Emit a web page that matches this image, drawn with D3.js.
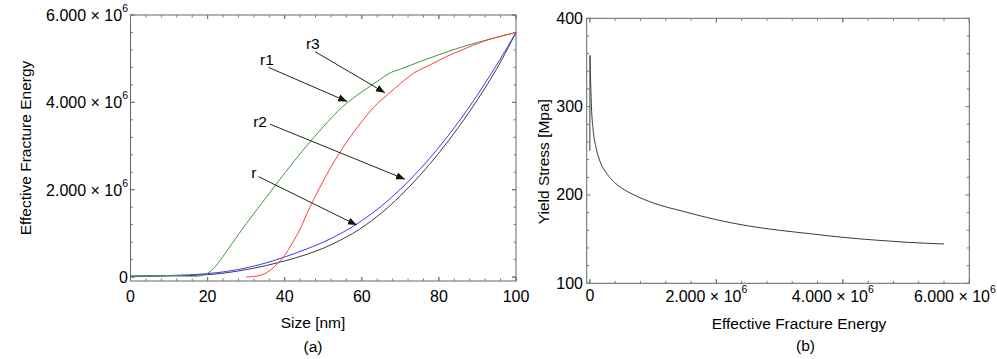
<!DOCTYPE html>
<html><head><meta charset="utf-8">
<script src="https://cdn.jsdelivr.net/npm/d3@7"></script>
<style>body{margin:0;background:#fff}svg{display:block}text{font-family:"Liberation Sans",Arial,sans-serif;fill:#000}</style>
</head><body>
<svg id="c" width="997" height="359"></svg>
<script>
// ---------- data: panel (a) ----------
const sizeR  = [0,10,20,25,30,35,40,45,50,55,60,65,70,75,80,85,90,95,100];
const energyR  = [0.02,0.025,0.055,0.1,0.17,0.26,0.37,0.5,0.66,0.87,1.13,1.46,1.86,2.32,2.84,3.42,4.06,4.77,5.6];
const energyR2 = [0.02,0.035,0.08,0.13,0.21,0.32,0.46,0.62,0.8,1.02,1.29,1.62,2.01,2.46,2.97,3.54,4.17,4.86,5.6];
const sizeR1 = [0,5,10,13,15,17,19,21,23,25,27,30,35,40,45,50,55,60,65,67,70,75,80,85,90,95,100];
const energyR1 = [0.02,0.03,0.035,0.03,0.02,0.02,0.05,0.15,0.35,0.6,0.85,1.22,1.8,2.38,2.93,3.44,3.9,4.24,4.54,4.66,4.76,4.93,5.09,5.24,5.37,5.49,5.6];
const sizeR3 = [30,32,34,36,38,40,42,44,46,48,50,52,54,56,58,60,63,67,70,73.5,78,82,86,91.3,95,100];
const energyR3 = [0.0,0.015,0.05,0.14,0.3,0.5,0.78,1.1,1.5,1.86,2.2,2.52,2.81,3.08,3.33,3.56,3.88,4.2,4.43,4.67,4.87,5.05,5.2,5.39,5.49,5.6];
// annotations (label, label pos, arrow start, arrow end) in data units [size, energy/1e6]
const annotLabels = ["r1","r3","r2","r"];
const annotText  = [[35.4,4.99],[47.3,5.34],[33.6,3.56],[32.0,2.40]];
const annotFrom  = [[35.8,4.80],[47.9,5.16],[36.2,3.50],[33.2,2.30]];
const annotTo    = [[56.2,4.02],[66.0,4.22],[71.2,2.24],[58.7,1.19]];
const xTicksA = [0,20,40,60,80,100];
const yTicksA = [0,2,4,6];
// ---------- data: panel (b) ----------
const energyB = [0,0.002,0.01,0.025,0.05,0.1,0.16,0.25,0.35,0.5,0.7,1.0,1.5,2.0,2.5,3.0,3.5,4.0,4.5,5.0,5.6];
const yieldB  = [250,358,335,300,275,253,238,226,217,208,200,191,181,172,165,160,156,152,149,146.5,144.5];
const xTicksB = [0,2,4,6];
const yTicksB = [100,200,300,400];

const svg = d3.select("#c");
const FS = 16, TS = 15.5;
const frameCol = "#666", tickCol = "#777";

function fmtSci(g, v, x, y, anchor){
  const t = g.append("text").attr("x",x).attr("y",y).attr("text-anchor",anchor)
    .attr("dominant-baseline","central").style("font-size",FS+"px");
  if (v===0){ t.text("0"); return t; }
  t.append("tspan").text(v.toFixed(3)+" \u00d7 10");
  t.append("tspan").attr("dy",-7).style("font-size","10.5px").text("6");
  return t;
}

function frame(g, x, y, xMaj, xMin, yMaj, yMin){
  const [x0,x1] = x.range(), [y0,y1] = y.range();
  g.append("rect").attr("x",x0).attr("y",y1).attr("width",x1-x0).attr("height",y0-y1)
    .attr("fill","none").attr("stroke",frameCol).attr("stroke-width",1);
  const tk = g.append("g").attr("stroke",tickCol).attr("stroke-width",1);
  const dx = x.domain(), dy = y.domain();
  xMin.forEach(v=>{ if(v<dx[0]||v>dx[1]) return; const p=x(v), L=xMaj.includes(v)?4:2.5;
    tk.append("line").attr("x1",p).attr("x2",p).attr("y1",y0).attr("y2",y0-L);
    tk.append("line").attr("x1",p).attr("x2",p).attr("y1",y1).attr("y2",y1+L); });
  yMin.forEach(v=>{ if(v<dy[0]||v>dy[1]) return; const p=y(v), L=yMaj.includes(v)?4:2.5;
    tk.append("line").attr("y1",p).attr("y2",p).attr("x1",x0).attr("x2",x0+L);
    tk.append("line").attr("y1",p).attr("y2",p).attr("x1",x1).attr("x2",x1-L); });
}

// ---------- panel (a) ----------
const gA = svg.append("g");
const xA = d3.scaleLinear().domain([0,100]).range([130.5,516]);
const yA = d3.scaleLinear().domain([-0.09,6]).range([281,15]);
const minXA = d3.range(0,100.01,4).map(v=>+v.toFixed(2));
const minYA = d3.range(0,6.01,0.4).map(v=>+v.toFixed(2));
frame(gA, xA, yA, xTicksA, minXA.concat(xTicksA), yTicksA, minYA.concat(yTicksA));
xTicksA.forEach(v=>gA.append("text").attr("x",xA(v)).attr("y",296.5).attr("text-anchor","middle")
  .attr("dominant-baseline","central").style("font-size",FS+"px").text(v));
yTicksA.forEach(v=>fmtSci(gA, v, 128, yA(v), "end"));

const lineA = (xs,ys)=>d3.line().x((d,i)=>xA(xs[i])).y((d,i)=>yA(ys[i])).curve(d3.curveMonotoneX)(xs);
const seriesA = [
  [sizeR, energyR, "#3c3c3c"],
  [sizeR, energyR2, "#3a3aff"],
  [sizeR1, energyR1, "#3c9a3c"],
  [sizeR3, energyR3, "#ff3c3c"]
];
seriesA.forEach(([xs,ys,c])=>gA.append("path").attr("d",lineA(xs,ys)).attr("fill","none")
  .attr("stroke",c).attr("stroke-width",1));

svg.append("defs").append("marker").attr("id","ah").attr("viewBox","0 0 10 10")
  .attr("refX",10).attr("refY",5).attr("markerWidth",9).attr("markerHeight",9)
  .attr("markerUnits","userSpaceOnUse").attr("orient","auto")
  .append("path").attr("d","M0,1 L10,5 L0,9 Z").attr("fill","#111");
annotLabels.forEach((lab,i)=>{
  gA.append("line").attr("x1",xA(annotFrom[i][0])).attr("y1",yA(annotFrom[i][1]))
    .attr("x2",xA(annotTo[i][0])).attr("y2",yA(annotTo[i][1]))
    .attr("stroke","#222").attr("stroke-width",1).attr("marker-end","url(#ah)");
  gA.append("text").attr("x",xA(annotText[i][0])).attr("y",yA(annotText[i][1]))
    .attr("text-anchor","middle").attr("dominant-baseline","central").style("font-size",TS+"px").text(lab);
});
gA.append("text").attr("x",313).attr("y",322.5).attr("text-anchor","middle").attr("dominant-baseline","central")
  .style("font-size",TS+"px").text("Size [nm]");
gA.append("text").attr("x",313).attr("y",346.5).attr("text-anchor","middle").attr("dominant-baseline","central")
  .style("font-size",TS+"px").text("(a)");
gA.append("text").attr("transform","translate(25,148) rotate(-90)").attr("text-anchor","middle")
  .attr("dominant-baseline","central").style("font-size",TS+"px").text("Effective Fracture Energy");

// ---------- panel (b) ----------
const gB = svg.append("g");
const xB = d3.scaleLinear().domain([-0.05,6]).range([586.7,969.3]);
const yB = d3.scaleLinear().domain([100,400]).range([283.3,18.3]);
const minXB = d3.range(0,6.01,0.4).map(v=>+v.toFixed(2));
const minYB = d3.range(100,400.1,20);
frame(gB, xB, yB, xTicksB, minXB.concat(xTicksB), yTicksB, minYB);
xTicksB.forEach(v=>{
  const t = fmtSci(gB, v, xB(v) - (v===0?0:10), 295.5, "middle");
  const bb = t.node().getBBox();
  if (bb.x + bb.width > 996) t.attr("x", +t.attr("x") - (bb.x + bb.width - 996));
});
yTicksB.forEach(v=>gB.append("text").attr("x",583).attr("y",yB(v)).attr("text-anchor","end")
  .attr("dominant-baseline","central").style("font-size",FS+"px").text(v));
gB.append("path").attr("d", d3.line().x((d,i)=>xB(energyB[i])).y((d,i)=>yB(yieldB[i])).curve(d3.curveMonotoneX)(energyB))
  .attr("fill","none").attr("stroke","#3c3c3c").attr("stroke-width",1);
gB.append("text").attr("x",799).attr("y",323).attr("text-anchor","middle").attr("dominant-baseline","central")
  .style("font-size",TS+"px").text("Effective Fracture Energy");
gB.append("text").attr("x",805.5).attr("y",345).attr("text-anchor","middle").attr("dominant-baseline","central")
  .style("font-size",TS+"px").text("(b)");
gB.append("text").attr("transform","translate(543,161.7) rotate(-90)").attr("text-anchor","middle")
  .attr("dominant-baseline","central").style("font-size",TS+"px").text("Yield Stress [Mpa]");
</script>
</body></html>
